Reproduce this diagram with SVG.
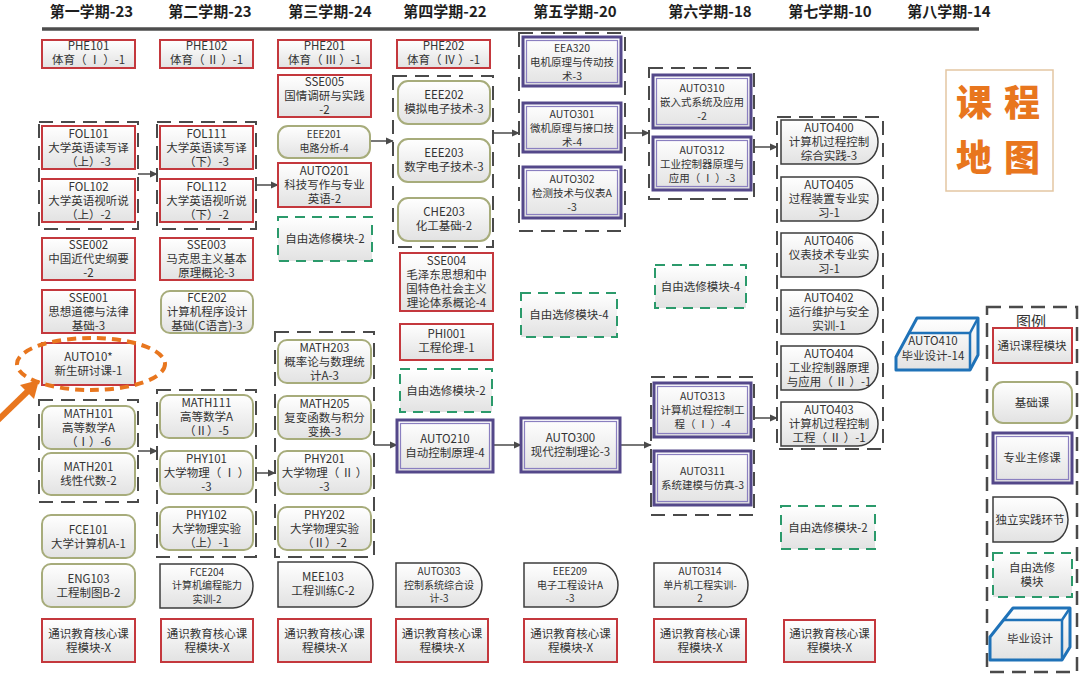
<svg xmlns="http://www.w3.org/2000/svg" width="1080" height="676" viewBox="0 0 1080 676">
<defs>
<linearGradient id="g" x1="0" y1="0" x2="0" y2="1"><stop offset="0" stop-color="#ffffff"/><stop offset="1" stop-color="#e2e2e2"/></linearGradient>
<marker id="ah" viewBox="0 0 10 10" refX="9" refY="5" markerWidth="8" markerHeight="8" markerUnits="userSpaceOnUse" orient="auto"><path d="M0,0.5 L10,5 L0,9.5 Z" fill="#4a4a4a"/></marker>
<style>
text{font-family:"Noto Sans CJK SC","Noto Sans",sans-serif;fill:#333;text-anchor:middle;font-size:11.5px}
.h{font-size:15px;font-weight:700;fill:#1e1e1e}
.s{font-size:10.5px}
.xs{font-size:10px}
.red{fill:url(#g);stroke:#c4383d;stroke-width:2}
.base{fill:url(#g);stroke:#a7ac7b;stroke-width:2}
.maj{fill:url(#g);stroke:#54488a;stroke-width:3}
.maji{fill:none;stroke:#8a7fc0;stroke-width:1.2}
.prac{fill:url(#g);stroke:#3c3c3c;stroke-width:1.5}
.elec{fill:url(#g);stroke:#2b9a6b;stroke-width:2;stroke-dasharray:10 7}
.grp{fill:none;stroke:#4a4a4a;stroke-width:2;stroke-dasharray:14 8}
.conn{fill:none;stroke:#4a4a4a;stroke-width:1.5;marker-end:url(#ah)}
.blk{fill:url(#g);stroke:#1f72b8;stroke-width:3;stroke-linejoin:round}
.blkl{fill:none;stroke:#1f72b8;stroke-width:2.5}
.big{font-size:36px;font-weight:900;fill:#e8761e}
</style>
</defs>
<rect width="1080" height="676" fill="#ffffff"/>

<g id="header">
<text class="h" x="91.5" y="17">第一学期-23</text>
<text class="h" x="210" y="17">第二学期-23</text>
<text class="h" x="330" y="17">第三学期-24</text>
<text class="h" x="445" y="17">第四学期-22</text>
<text class="h" x="575" y="17">第五学期-20</text>
<text class="h" x="710" y="17">第六学期-18</text>
<text class="h" x="830" y="17">第七学期-10</text>
<text class="h" x="949" y="17">第八学期-14</text>
<line x1="42" y1="29" x2="979" y2="29" stroke="#4d4d4d" stroke-width="3.5"/>
</g>

<g id="groups">
<rect id="grp-fol1" class="grp" x="39" y="122" width="99" height="107"/>
<rect id="grp-math1" class="grp" x="39" y="400" width="99" height="102"/>
<rect id="grp-fol2" class="grp" x="157" y="122" width="99" height="107"/>
<rect id="grp-math2" class="grp" x="157" y="390" width="99" height="167"/>
<rect id="grp-math3" class="grp" x="275" y="332" width="99" height="225"/>
<rect id="grp-eee4" class="grp" x="393" y="76" width="100" height="171"/>
<rect id="grp-5" class="grp" x="519" y="33" width="106" height="198"/>
<rect id="grp-6a" class="grp" x="649" y="68" width="105" height="131"/>
<rect id="grp-6b" class="grp" x="651" y="377" width="103" height="138"/>
<rect id="grp-7" class="grp" x="777" y="117" width="106" height="332"/>
</g>

<g id="connectors">
<line class="conn" x1="138" y1="174" x2="157" y2="174"/>
<line class="conn" x1="256" y1="185" x2="278" y2="185"/>
<line class="conn" x1="370" y1="141" x2="393" y2="141"/>
<line class="conn" x1="493" y1="133" x2="519" y2="133"/>
<line class="conn" x1="625" y1="133" x2="649" y2="133"/>
<line class="conn" x1="754" y1="147" x2="777" y2="147"/>
<line class="conn" x1="138" y1="451" x2="157" y2="451"/>
<line class="conn" x1="256" y1="473" x2="275" y2="473"/>
<line class="conn" x1="374" y1="445" x2="397" y2="445"/>
<line class="conn" x1="493" y1="445" x2="521" y2="445"/>
<line class="conn" x1="620" y1="445" x2="651" y2="445"/>
<line class="conn" x1="754" y1="418" x2="777" y2="418"/>
</g>

<!-- Column 1 -->
<g id="PHE101"><rect class="red" x="42" y="40" width="93" height="28"/><text x="88.5" y="50">PHE101</text><text x="88.5" y="64">体育（ Ⅰ ）-1</text></g>
<g id="FOL101"><rect class="red" x="42" y="126" width="93" height="43"/><text x="88.5" y="137.5">FOL101</text><text x="88.5" y="151.5">大学英语读写译</text><text x="88.5" y="165.5">（上）-3</text></g>
<g id="FOL102"><rect class="red" x="42" y="179" width="93" height="43"/><text x="88.5" y="190.5">FOL102</text><text x="88.5" y="204.5">大学英语视听说</text><text x="88.5" y="218.5">（上）-2</text></g>
<g id="SSE002"><rect class="red" x="42" y="238" width="93" height="42"/><text x="88.5" y="249">SSE002</text><text x="88.5" y="263">中国近代史纲要</text><text x="88.5" y="277">-2</text></g>
<g id="SSE001"><rect class="red" x="42" y="290" width="93" height="43"/><text x="88.5" y="301.5">SSE001</text><text x="88.5" y="315.5">思想道德与法律</text><text x="88.5" y="329.5">基础-3</text></g>
<g id="AUTO10"><rect class="red" x="42" y="343" width="93" height="42"/><text x="88.5" y="361">AUTO10*</text><text x="88.5" y="375">新生研讨课-1</text></g>
<g id="highlight">
<ellipse cx="91" cy="364" rx="74" ry="26" fill="none" stroke="#e8761e" stroke-width="4" stroke-dasharray="9 6"/>
<line x1="-4" y1="422" x2="28" y2="391" stroke="#e8761e" stroke-width="6"/>
<polygon points="39,380 34,399 20,385" fill="#e8761e"/>
</g>
<g id="MATH101"><rect class="base" x="42" y="406" width="93" height="43" rx="9"/><text x="88.5" y="417.5">MATH101</text><text x="88.5" y="431.5">高等数学A</text><text x="88.5" y="445.5">（Ⅰ）-6</text></g>
<g id="MATH201"><rect class="base" x="42" y="453" width="93" height="42" rx="9"/><text x="88.5" y="471">MATH201</text><text x="88.5" y="485">线性代数-2</text></g>
<g id="FCE101"><rect class="base" x="42" y="515" width="93" height="43" rx="9"/><text x="88.5" y="533.5">FCE101</text><text x="88.5" y="547.5">大学计算机A-1</text></g>
<g id="ENG103"><rect class="base" x="42" y="564" width="93" height="43" rx="9"/><text x="88.5" y="582.5">ENG103</text><text x="88.5" y="596.5">工程制图B-2</text></g>
<g id="GE1"><rect class="red" x="42" y="619" width="93" height="43"/><text x="88.5" y="637.5">通识教育核心课</text><text x="88.5" y="651.5">程模块-X</text></g>

<!-- Column 2 -->
<g id="PHE102"><rect class="red" x="160" y="40" width="93" height="28"/><text x="206.5" y="50">PHE102</text><text x="206.5" y="64">体育（ Ⅱ ）-1</text></g>
<g id="FOL111"><rect class="red" x="160" y="126" width="93" height="43"/><text x="206.5" y="137.5">FOL111</text><text x="206.5" y="151.5">大学英语读写译</text><text x="206.5" y="165.5">（下）-3</text></g>
<g id="FOL112"><rect class="red" x="160" y="179" width="93" height="43"/><text x="206.5" y="190.5">FOL112</text><text x="206.5" y="204.5">大学英语视听说</text><text x="206.5" y="218.5">（下）-2</text></g>
<g id="SSE003"><rect class="red" x="160" y="238" width="93" height="42"/><text x="206.5" y="249">SSE003</text><text x="206.5" y="263">马克思主义基本</text><text x="206.5" y="277">原理概论-3</text></g>
<g id="FCE202"><rect class="base" x="161" y="291" width="92" height="42" rx="9"/><text x="207" y="302">FCE202</text><text x="207" y="316">计算机程序设计</text><text x="207" y="330">基础(C语言)-3</text></g>
<g id="MATH111"><rect class="base" x="160" y="395" width="93" height="43" rx="9"/><text x="206.5" y="406.5">MATH111</text><text x="206.5" y="420.5">高等数学A</text><text x="206.5" y="434.5">（Ⅱ）-5</text></g>
<g id="PHY101"><rect class="base" x="160" y="451" width="93" height="43" rx="9"/><text x="206.5" y="462.5">PHY101</text><text x="206.5" y="476.5">大学物理（ Ⅰ ）</text><text x="206.5" y="490.5">-3</text></g>
<g id="PHY102"><rect class="base" x="160" y="507" width="93" height="43" rx="9"/><text x="206.5" y="518.5">PHY102</text><text x="206.5" y="532.5">大学物理实验</text><text x="206.5" y="546.5">（上）-1</text></g>
<g id="FCE204"><path class="prac" d="M160,564 H233 A20,22 0 0 1 233,608 H160 Z"/><text class="xs" x="207" y="575.5">FCE204</text><text class="xs" x="207" y="589">计算机编程能力</text><text class="xs" x="207" y="602.5">实训-2</text></g>
<g id="GE2"><rect class="red" x="161" y="619" width="92" height="43"/><text x="207" y="637.5">通识教育核心课</text><text x="207" y="651.5">程模块-X</text></g>

<!-- Column 3 -->
<g id="PHE201"><rect class="red" x="278" y="40" width="93" height="28"/><text x="324.5" y="50">PHE201</text><text x="324.5" y="64">体育（ Ⅲ ）-1</text></g>
<g id="SSE005"><rect class="red" x="278" y="75" width="93" height="42"/><text x="324.5" y="86">SSE005</text><text x="324.5" y="100">国情调研与实践</text><text x="324.5" y="114">-2</text></g>
<g id="EEE201"><rect class="base" x="278" y="126" width="92" height="32" rx="10"/><text class="xs" x="324" y="138">EEE201</text><text class="xs" x="324" y="151.5">电路分析-4</text></g>
<g id="AUTO201"><rect class="red" x="278" y="163" width="93" height="44"/><text x="324.5" y="175">AUTO201</text><text x="324.5" y="189">科技写作与专业</text><text x="324.5" y="203">英语-2</text></g>
<g id="ELEC3"><rect class="elec" x="278" y="217" width="94" height="44"/><text x="325" y="243">自由选修模块-2</text></g>
<g id="MATH203"><rect class="base" x="278" y="340" width="93" height="43" rx="9"/><text x="324.5" y="351.5">MATH203</text><text x="324.5" y="365.5">概率论与数理统</text><text x="324.5" y="379.5">计A-3</text></g>
<g id="MATH205"><rect class="base" x="278" y="396" width="93" height="43" rx="9"/><text x="324.5" y="407.5">MATH205</text><text x="324.5" y="421.5">复变函数与积分</text><text x="324.5" y="435.5">变换-3</text></g>
<g id="PHY201"><rect class="base" x="278" y="451" width="93" height="43" rx="9"/><text x="324.5" y="462.5">PHY201</text><text x="324.5" y="476.5">大学物理（ Ⅱ ）</text><text x="324.5" y="490.5">-3</text></g>
<g id="PHY202"><rect class="base" x="278" y="507" width="93" height="43" rx="9"/><text x="324.5" y="518.5">PHY202</text><text x="324.5" y="532.5">大学物理实验</text><text x="324.5" y="546.5">（Ⅱ）-2</text></g>
<g id="MEE103"><path class="prac" d="M278,562 H353 A20,22.5 0 0 1 353,607 H278 Z"/><text x="323" y="581">MEE103</text><text x="323" y="595">工程训练C-2</text></g>
<g id="GE3"><rect class="red" x="278" y="619" width="93" height="43"/><text x="324.5" y="637.5">通识教育核心课</text><text x="324.5" y="651.5">程模块-X</text></g>

<!-- Column 4 -->
<g id="PHE202"><rect class="red" x="397" y="40" width="93" height="28"/><text x="443.5" y="50">PHE202</text><text x="443.5" y="64">体育（ Ⅳ ）-1</text></g>
<g id="EEE202"><rect class="base" x="398" y="81" width="92" height="43" rx="10"/><text x="444" y="99">EEE202</text><text x="444" y="113">模拟电子技术-3</text></g>
<g id="EEE203"><rect class="base" x="398" y="139" width="92" height="43" rx="10"/><text x="444" y="157">EEE203</text><text x="444" y="171">数字电子技术-3</text></g>
<g id="CHE203"><rect class="base" x="398" y="198" width="92" height="43" rx="10"/><text x="444" y="216">CHE203</text><text x="444" y="230">化工基础-2</text></g>
<g id="SSE004"><rect class="red" x="400" y="253" width="93" height="58"/><text x="446.5" y="265">SSE004</text><text x="446.5" y="279">毛泽东思想和中</text><text x="446.5" y="293">国特色社会主义</text><text x="446.5" y="307">理论体系概论-4</text></g>
<g id="PHI001"><rect class="red" x="400" y="324" width="93" height="36"/><text x="446.5" y="338">PHI001</text><text x="446.5" y="352">工程伦理-1</text></g>
<g id="ELEC4"><rect class="elec" x="400" y="369" width="92" height="43"/><text x="446" y="394.5">自由选修模块-2</text></g>
<g id="AUTO210"><rect class="maj" x="397" y="420" width="96" height="52"/><rect class="maji" x="400.5" y="423.5" width="89" height="45"/><text x="445" y="443">AUTO210</text><text x="445" y="457">自动控制原理-4</text></g>
<g id="AUTO303"><path class="prac" d="M396,563 H462 A20,22 0 0 1 462,607 H396 Z"/><text class="xs" x="439" y="575">AUTO303</text><text class="xs" x="439" y="588.5">控制系统综合设</text><text class="xs" x="439" y="602">计-3</text></g>
<g id="GE4"><rect class="red" x="396" y="619" width="92" height="43"/><text x="442" y="637.5">通识教育核心课</text><text x="442" y="651.5">程模块-X</text></g>

<!-- Column 5 -->
<g id="EEA320"><rect class="maj" x="523" y="37" width="98" height="49"/><rect class="maji" x="526.5" y="40.5" width="91" height="42"/><text class="s" x="572" y="52">EEA320</text><text class="s" x="572" y="66">电机原理与传动技</text><text class="s" x="572" y="80">术-3</text></g>
<g id="AUTO301"><rect class="maj" x="523" y="103" width="98" height="49"/><rect class="maji" x="526.5" y="106.5" width="91" height="42"/><text class="s" x="572" y="118">AUTO301</text><text class="s" x="572" y="132">微机原理与接口技</text><text class="s" x="572" y="146">术-4</text></g>
<g id="AUTO302"><rect class="maj" x="523" y="167" width="98" height="51"/><rect class="maji" x="526.5" y="170.5" width="91" height="44"/><text class="s" x="572" y="183">AUTO302</text><text class="s" x="572" y="197">检测技术与仪表A</text><text class="s" x="572" y="211">-3</text></g>
<g id="ELEC5"><rect class="elec" x="521" y="293" width="96" height="44"/><text x="569" y="319">自由选修模块-4</text></g>
<g id="AUTO300"><rect class="maj" x="521" y="418" width="99" height="54"/><rect class="maji" x="524.5" y="421.5" width="92" height="47"/><text x="570.5" y="442">AUTO300</text><text x="570.5" y="456">现代控制理论-3</text></g>
<g id="EEE209"><path class="prac" d="M524,563 H598 A20,22 0 0 1 598,607 H524 Z"/><text class="xs" x="570" y="575">EEE209</text><text class="xs" x="570" y="588.5">电子工程设计A</text><text class="xs" x="570" y="602">-3</text></g>
<g id="GE5"><rect class="red" x="524" y="619" width="93" height="43"/><text x="570.5" y="637.5">通识教育核心课</text><text x="570.5" y="651.5">程模块-X</text></g>

<!-- Column 6 -->
<g id="AUTO310"><rect class="maj" x="653" y="75" width="98" height="53"/><rect class="maji" x="656.5" y="78.5" width="91" height="46"/><text class="s" x="702" y="92">AUTO310</text><text class="s" x="702" y="106">嵌入式系统及应用</text><text class="s" x="702" y="120">-2</text></g>
<g id="AUTO312"><rect class="maj" x="653" y="137" width="98" height="53"/><rect class="maji" x="656.5" y="140.5" width="91" height="46"/><text class="s" x="702" y="154">AUTO312</text><text class="s" x="702" y="168">工业控制器原理与</text><text class="s" x="702" y="182">应用（ Ⅰ ）-3</text></g>
<g id="ELEC6"><rect class="elec" x="655" y="265" width="91" height="43"/><text x="700.5" y="290.5">自由选修模块-4</text></g>
<g id="AUTO313"><rect class="maj" x="654" y="383" width="97" height="54"/><rect class="maji" x="657.5" y="386.5" width="90" height="47"/><text class="s" x="702.5" y="400">AUTO313</text><text class="s" x="702.5" y="414">计算机过程控制工</text><text class="s" x="702.5" y="428">程（ Ⅰ ）-4</text></g>
<g id="AUTO311"><rect class="maj" x="654" y="451" width="97" height="54"/><rect class="maji" x="657.5" y="454.5" width="90" height="47"/><text class="s" x="702.5" y="475">AUTO311</text><text class="s" x="702.5" y="489">系统建模与仿真-3</text></g>
<g id="AUTO314"><path class="prac" d="M654,563 H728 A20,22 0 0 1 728,607 H654 Z"/><text class="xs" x="700" y="575">AUTO314</text><text class="xs" x="700" y="588.5">单片机工程实训-</text><text class="xs" x="700" y="602">2</text></g>
<g id="GE6"><rect class="red" x="654" y="619" width="92" height="43"/><text x="700" y="637.5">通识教育核心课</text><text x="700" y="651.5">程模块-X</text></g>

<!-- Column 7 -->
<g id="AUTO400"><path class="prac" d="M781,120 H858 A20,22 0 0 1 858,164 H781 Z"/><text x="829" y="132">AUTO400</text><text x="829" y="146">计算机过程控制</text><text x="829" y="160">综合实践-3</text></g>
<g id="AUTO405"><path class="prac" d="M781,177 H858 A20,22 0 0 1 858,221 H781 Z"/><text x="829" y="189">AUTO405</text><text x="829" y="203">过程装置专业实</text><text x="829" y="217">习-1</text></g>
<g id="AUTO406"><path class="prac" d="M781,233 H858 A20,22 0 0 1 858,277 H781 Z"/><text x="829" y="245">AUTO406</text><text x="829" y="259">仪表技术专业实</text><text x="829" y="273">习-1</text></g>
<g id="AUTO402"><path class="prac" d="M781,290 H858 A20,22 0 0 1 858,334 H781 Z"/><text x="829" y="302">AUTO402</text><text x="829" y="316">运行维护与安全</text><text x="829" y="330">实训-1</text></g>
<g id="AUTO404"><path class="prac" d="M781,346 H858 A20,22 0 0 1 858,390 H781 Z"/><text x="829" y="358">AUTO404</text><text x="829" y="372">工业控制器原理</text><text x="829" y="386">与应用（ Ⅱ ）-1</text></g>
<g id="AUTO403"><path class="prac" d="M781,402 H858 A20,22 0 0 1 858,446 H781 Z"/><text x="829" y="414">AUTO403</text><text x="829" y="428">计算机过程控制</text><text x="829" y="442">工程（ Ⅱ ）-1</text></g>
<g id="ELEC7"><rect class="elec" x="781" y="506" width="94" height="43"/><text x="828" y="531.5">自由选修模块-2</text></g>
<g id="GE7"><rect class="red" x="784" y="620" width="91" height="42"/><text x="829.5" y="638">通识教育核心课</text><text x="829.5" y="652">程模块-X</text></g>

<!-- Column 8 -->
<g id="AUTO410">
<polygon class="blk" points="896,370 896,357 917,318 978,318 978,355 970,370"/>
<polyline class="blkl" points="909,333 970,333 978,318"/>
<line class="blkl" x1="970" y1="333" x2="970" y2="370"/>
<text x="933" y="345">AUTO410</text><text x="933" y="360">毕业设计-14</text>
</g>

<g id="title">
<rect x="946" y="70" width="107" height="121" fill="#ffffff" stroke="#e3c6a2" stroke-width="1.5"/>
<text class="big" x="974" y="116">课</text>
<text class="big" x="1022" y="116">程</text>
<text class="big" x="974" y="171">地</text>
<text class="big" x="1022" y="171">图</text>
</g>

<g id="legend">
<rect class="grp" x="987" y="307" width="90" height="365" style="stroke-width:2.5"/>
<text x="1031" y="327" style="font-size:15px">图例</text>
<rect class="red" x="993" y="328" width="79" height="35"/><text x="1032" y="349.5">通识课程模块</text>
<rect class="base" x="993" y="382" width="79" height="41" rx="10"/><text x="1032" y="406.5">基础课</text>
<rect class="maj" x="993" y="433" width="79" height="50"/><rect class="maji" x="996.5" y="436.5" width="72" height="43"/><text x="1032" y="462">专业主修课</text>
<path class="prac" d="M993,497 H1050 A18,22.5 0 0 1 1050,542 H993 Z"/><text x="1030" y="523.5">独立实践环节</text>
<rect class="elec" x="993" y="553" width="79" height="44"/><text x="1032" y="572">自由选修</text><text x="1032" y="586">模块</text>
<polygon class="blk" points="990,660 990,637 1013,608 1070,608 1070,647 1062,660"/>
<polyline class="blkl" points="1003,620 1062,620 1070,608"/>
<line class="blkl" x1="1062" y1="620" x2="1062" y2="660"/>
<text x="1030" y="643">毕业设计</text>
</g>
</svg>
